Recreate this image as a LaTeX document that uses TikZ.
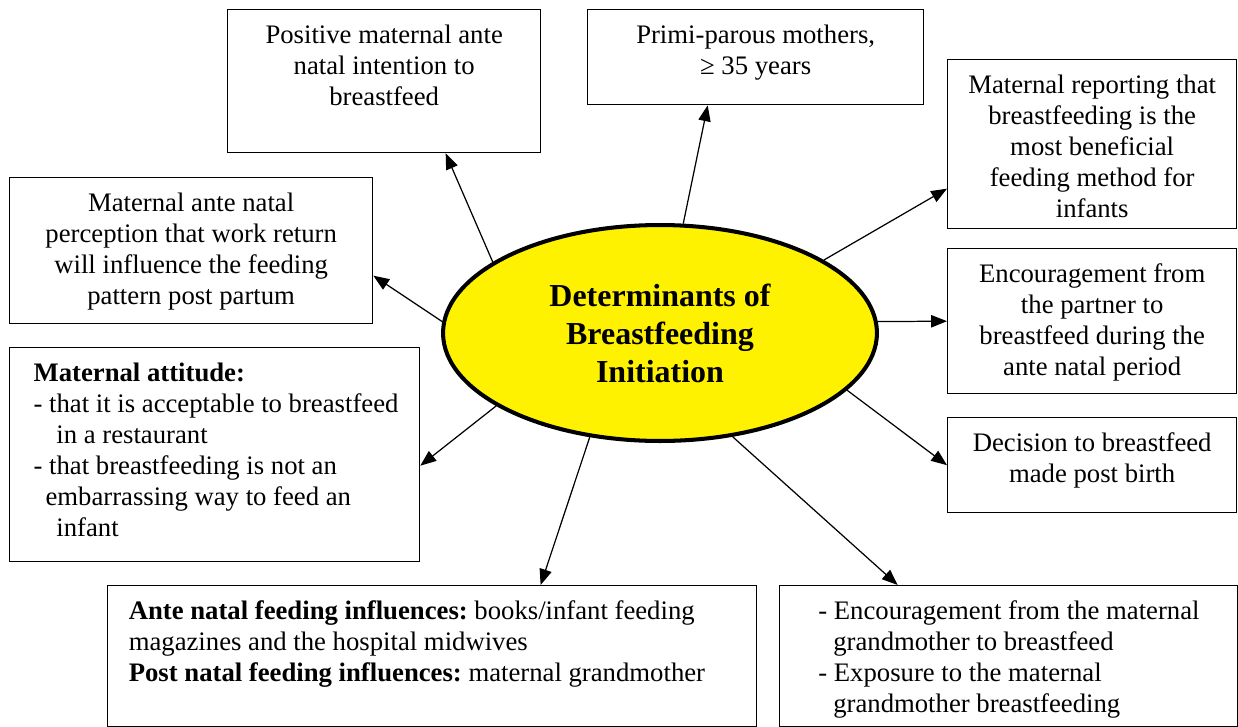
\documentclass[tikz,border=0pt]{standalone}
\usepackage{fontspec}
\setmainfont{Liberation Serif}
\usetikzlibrary{shapes.geometric,arrows.meta}
\frenchspacing
% text of a box, set from the top
\newcommand{\ctext}[3]{\parbox[c][\dimexpr#2-14pt\relax][t]{#1}{\centering\strut#3}}
\newcommand{\ltext}[4]{\parbox[c][\dimexpr#2-14pt\relax][t]{#1}{\raggedright\leftskip=#3\relax\strut#4}}
\begin{document}
\begin{tikzpicture}[x=0.02cm,y=-0.02cm,
    box/.style={draw,rectangle,line width=0.8pt,anchor=north west,inner xsep=0pt,inner ysep=7pt,
      font=\fontsize{15.2}{17.6}\selectfont},
    hub/.style={draw,ellipse,fill=yellow,line width=2.3pt,minimum width=8.68cm,minimum height=4.32cm,
      inner sep=0pt,align=center,font=\bfseries\fontsize{18.2}{21.6}\selectfont},
    arr/.style={-{Triangle[length=9pt,width=7pt]},line width=0.7pt}]
    \useasboundingbox (0,0) rectangle (1238,727);

    \node[hub] (core) at (660,333) {Determinants of\\Breastfeeding\\Initiation};

    \node[box] (intent) at (227,9) {\ctext{6.26cm}{2.86cm}{Positive maternal ante\\natal intention to\\breastfeed}};
    \node[box] (primi) at (587,9) {\ctext{6.72cm}{1.90cm}{Primi-parous mothers,\\≥ 35 years}};
    \node[box] (benefit) at (947,59) {\ctext{5.78cm}{3.38cm}{Maternal reporting that\\breastfeeding is the\\most beneficial\\feeding method for\\infants}};
    \node[box] (partner) at (947,248) {\ctext{5.78cm}{2.90cm}{Encouragement from\\the partner to\\breastfeed during the\\ante natal period}};
    \node[box] (decision) at (947,417) {\ctext{5.78cm}{1.90cm}{Decision to breastfeed\\made post birth}};
    \node[box] (work) at (9,177) {\ctext{7.26cm}{2.92cm}{Maternal ante natal\\perception that work return\\will influence the feeding\\pattern post partum}};
    \node[box] (attitude) at (9,347) {\ltext{8.20cm}{4.28cm}{13.6pt}{\textbf{Maternal attitude:}\\
      - that it is acceptable to breastfeed\\\hspace*{13pt}in a restaurant\\
      - that breastfeeding is not an\\\hspace*{6.8pt}embarrassing way to feed an\\\hspace*{13pt}infant}};
    \node[box] (influence) at (107,585) {\ltext{12.98cm}{2.82cm}{12pt}{\textbf{Ante natal feeding influences:} books/infant feeding\\
      magazines and the hospital midwives\\\textbf{Post natal feeding influences:} maternal grandmother}};
    \node[box] (grandma) at (779,585) {\ltext{9.16cm}{2.82cm}{22pt}{- Encouragement from the maternal\\
      \hspace*{8.5pt}grandmother to breastfeed\\- Exposure to the maternal\\\hspace*{8.5pt}grandmother breastfeeding}};

    \draw (core.157) edge[arr] ([xshift=1.23cm]intent.south)
          (core.78) edge[arr] ([xshift=-0.96cm]primi.south)
          (core.24) edge[arr] ([yshift=-0.89cm]benefit.west)
          (core.3) edge[arr] (partner.west)
          (core.-17) edge[arr] (decision.west)
          (core.-55) edge[arr] ([xshift=-2.22cm]grandma.north)
          (core.-124) edge[arr] ([xshift=2.17cm]influence.north)
          (core.-156) edge[arr] ([yshift=-0.22cm]attitude.east)
          (core.177) edge[arr] ([yshift=-0.5cm]work.east);
\end{tikzpicture}
\end{document}
